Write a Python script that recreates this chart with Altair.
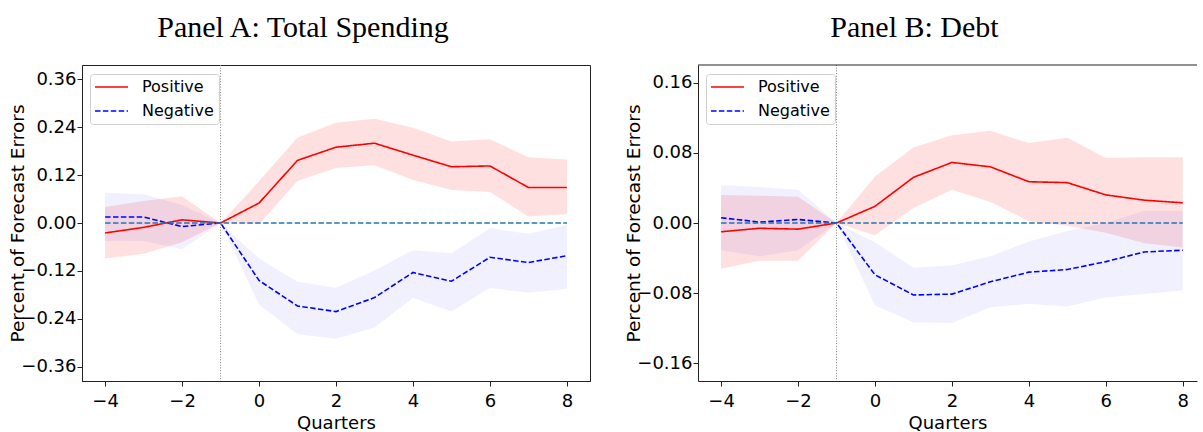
import altair as alt
import pandas as pd

# Event time in quarters relative to the shock
quarters = [-4, -3, -2, -1, 0, 1, 2, 3, 4, 5, 6, 7, 8]
x_ticks = [-4, -2, 0, 2, 4, 6, 8]
series = ["Positive", "Negative"]

# Panel A: Total Spending
a_pos = [-0.025, -0.011, 0.008, 0.0, 0.050, 0.157, 0.190, 0.200, 0.170, 0.141, 0.143, 0.089, 0.089]
a_pos_hi = [0.040, 0.055, 0.067, 0.0, 0.105, 0.214, 0.251, 0.261, 0.239, 0.204, 0.210, 0.165, 0.159]
a_pos_lo = [-0.089, -0.077, -0.048, 0.0, -0.003, 0.105, 0.138, 0.145, 0.108, 0.083, 0.078, 0.016, 0.022]
a_neg = [0.015, 0.015, -0.009, 0.0, -0.144, -0.208, -0.222, -0.187, -0.124, -0.146, -0.086, -0.099, -0.082]
a_neg_hi = [0.076, 0.072, 0.045, 0.0, -0.089, -0.147, -0.162, -0.119, -0.068, -0.076, -0.013, -0.027, -0.005]
a_neg_lo = [-0.045, -0.045, -0.066, 0.0, -0.204, -0.279, -0.290, -0.262, -0.188, -0.222, -0.163, -0.175, -0.165]
a_ticks = [-0.36, -0.24, -0.12, 0.0, 0.12, 0.24, 0.36]
a_lim = 0.396

# Panel B: Debt
b_pos = [-0.010, -0.006, -0.007, 0.0, 0.019, 0.052, 0.069, 0.064, 0.047, 0.046, 0.032, 0.026, 0.023]
b_pos_hi = [0.032, 0.031, 0.030, 0.0, 0.053, 0.086, 0.100, 0.105, 0.091, 0.097, 0.074, 0.075, 0.075]
b_pos_lo = [-0.052, -0.043, -0.043, 0.0, -0.014, 0.017, 0.038, 0.024, 0.002, -0.003, -0.011, -0.023, -0.028]
b_neg = [0.006, 0.001, 0.004, 0.0, -0.059, -0.082, -0.081, -0.067, -0.056, -0.053, -0.044, -0.033, -0.031]
b_neg_hi = [0.043, 0.041, 0.038, 0.0, -0.022, -0.051, -0.048, -0.038, -0.021, -0.009, 0.000, 0.014, 0.014]
b_neg_lo = [-0.031, -0.038, -0.031, 0.0, -0.094, -0.113, -0.114, -0.096, -0.092, -0.095, -0.085, -0.081, -0.077]
b_ticks = [-0.16, -0.08, 0.0, 0.08, 0.16]
b_lim = 0.18

zero_line = [0.0] * len(quarters)
event_quarter = [-1]

SANS = "DejaVu Sans"
FRAME = "#222"
line_colors = ["#ff0000", "#0000ff"]
band_colors = {"Positive": "rgba(255,0,0,0.12)", "Negative": "rgba(0,0,255,0.06)"}


def legend_spec():
    # long horizontal line sample that keeps legend rows compact
    return alt.Legend(title=None, orient="none", legendX=8, legendY=9,
                      symbolType="M-1.111,0H3.472", symbolSize=207, symbolStrokeWidth=1.6,
                      labelFont=SANS, labelFontSize=16, labelColor="black",
                      labelOffset=31, rowPadding=8, padding=5,
                      fillColor="rgba(255,255,255,0.8)", strokeColor="#d0d0d0",
                      cornerRadius=3)


def panel(title, pos, pos_lo, pos_hi, neg, neg_lo, neg_hi, ylim, yticks, xmax, width, open_right):
    n = len(quarters)
    df = pd.DataFrame({
        "q": quarters * 2,
        "series": ["Positive"] * n + ["Negative"] * n,
        "value": pos + neg,
        "lo": pos_lo + neg_lo,
        "hi": pos_hi + neg_hi,
    })
    zdf = pd.DataFrame({"q": quarters, "zero": zero_line})
    vdf = pd.DataFrame({"q": event_quarter})

    xs = alt.Scale(domain=[-4.6, xmax], nice=False, zero=False)
    ys = alt.Scale(domain=[-ylim, ylim], nice=False, zero=False)
    xax = alt.Axis(values=x_ticks, format="d", title="Quarters")
    yax = alt.Axis(values=yticks, format=".2f", title="Percent of Forecast Errors")

    # confidence bands, one translucent area per series
    bands = [
        alt.Chart(df).transform_filter(alt.datum.series == s).mark_area(
            strokeWidth=0, color=band_colors[s]).encode(
            x=alt.X("q:Q", scale=xs, axis=xax),
            y=alt.Y("lo:Q", scale=ys, axis=yax),
            y2="hi:Q",
        )
        for s in series
    ]

    lines = alt.Chart(df).mark_line(strokeWidth=1.6).encode(
        x=alt.X("q:Q", scale=xs, axis=xax),
        y=alt.Y("value:Q", scale=ys, axis=yax),
        color=alt.Color("series:N", scale=alt.Scale(domain=series, range=line_colors),
                        legend=legend_spec()),
        strokeDash=alt.StrokeDash("series:N",
                                  scale=alt.Scale(domain=series, range=[[1, 0], [5.5, 2.4]]),
                                  legend=legend_spec()),
    )

    zero = alt.Chart(zdf).mark_line(color="#1f77b4", strokeWidth=1.4, strokeDash=[5.5, 2.4]).encode(
        x=alt.X("q:Q", scale=xs, axis=xax),
        y=alt.Y("zero:Q", scale=ys, axis=yax),
    )

    vline = alt.Chart(vdf).mark_rule(color="gray", strokeWidth=1, strokeDash=[1, 1.7]).encode(
        x=alt.X("q:Q", scale=xs, axis=xax),
    )

    layers = bands + [vline, lines, zero]
    props = dict(width=width, height=316, title=alt.TitleParams(title, dx=-33))
    if open_right:
        # frame continues past the right edge: draw only the top edge
        top = alt.Chart(pd.DataFrame({"top": [ylim]})).mark_rule(color=FRAME, strokeWidth=1).encode(
            y=alt.Y("top:Q", scale=ys, axis=yax),
        )
        layers.append(top)
        props["view"] = alt.ViewBackground(stroke="transparent")

    return alt.layer(*layers).properties(**props)


pa = panel("Panel A: Total Spending", a_pos, a_pos_lo, a_pos_hi, a_neg, a_neg_lo, a_neg_hi,
           a_lim, a_ticks, 8.6, 508, False)
pb = panel("Panel B: Debt", b_pos, b_pos_lo, b_pos_hi, b_neg, b_neg_lo, b_neg_hi,
           b_lim, b_ticks, 8.37, 499, True)

chart = alt.hconcat(pa, pb, spacing=108, bounds="flush").resolve_scale(
    color="independent", strokeDash="independent",
).resolve_legend(
    color="independent", strokeDash="independent",
).properties(
    padding={"left": 8, "top": 12, "right": 0, "bottom": 0},
).configure_view(
    stroke=FRAME, strokeWidth=1,
).configure_axis(
    labelFont=SANS, labelFontSize=18, labelColor="black",
    titleFont=SANS, titleFontWeight="normal", titleColor="black",
    tickColor=FRAME, domainColor=FRAME, tickSize=5, grid=False,
).configure_axisX(
    labelPadding=6, titlePadding=4, titleFontSize=18,
).configure_axisY(
    labelPadding=1, titlePadding=-7, titleFontSize=18.5,
).configure_title(
    font="Liberation Serif", fontSize=30, fontWeight="normal", color="black",
    anchor="middle", offset=22,
)

chart.save("out.html", embed_options={"renderer": "svg", "actions": False})
